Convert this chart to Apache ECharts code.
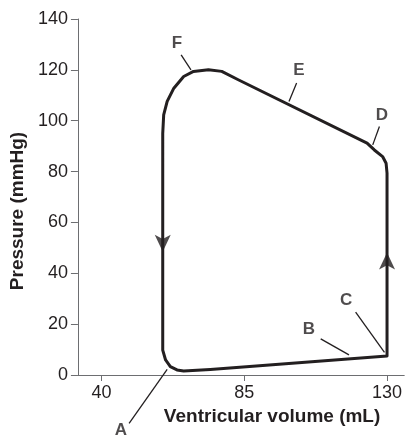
<!DOCTYPE html>
<html>
<head>
<meta charset="utf-8">
<script src="https://cdn.jsdelivr.net/npm/echarts@6/dist/echarts.min.js"></script>
<style>
  html, body { margin: 0; padding: 0; background: #fff; }
  #chart { width: 405px; height: 438px; }
</style>
</head>
<body>
<div id="chart"></div>
<script>
// pressure-volume loop (volume mL, pressure mmHg)
const loop = [
  [63.8, 2.0], [65.9, 1.6], [74.3, 2.2], [130, 7.5],
  [130, 79.4], [129.7, 83.3], [128.6, 85.9], [126.0, 88.5], [123.7, 91.2],
  [83.1, 116.1], [77.9, 119.4], [73.7, 120.0], [69.0, 119.4], [65.9, 117.4],
  [62.8, 112.8], [60.7, 107.6], [59.6, 102.3], [59.3, 95],
  [59.3, 9.8], [60.2, 5.9], [61.7, 3.3], [63.8, 2.0]
]
// arrows on the two vertical sides
const arrowDown = [59.3, 48.5]
const arrowUp = [130, 48.2]

const letters = ['A', 'B', 'C', 'D', 'E', 'F']
const letterPos = [
  [46.1, -21.6], [105.4, 18.0], [117.1, 29.5],
  [128.4, 102.3], [102.2, 119.8], [63.8, 130.5]
]
const leaders = [
  [[48.7, -19.0], [60.7, 2.2]],
  [[109.1, 14.2], [118.0, 7.9]],
  [[120.1, 24.7], [129.2, 8.9]],
  [[127.6, 97.7], [125.5, 90.5]],
  [[101.5, 114.8], [99.1, 107.6]],
  [[65.1, 125.9], [68.2, 120.0]]
]
const xTicks = [40, 85, 130]

const ink = '#231f20'
const axisGrey = '#6d6e71'
const font = '"Liberation Sans", Arial, sans-serif'

const chart = echarts.init(document.getElementById('chart'), null, { renderer: 'canvas' })

const option = {
  backgroundColor: '#fff',
  animation: false,
  textStyle: { fontFamily: font, color: ink },
  grid: { left: 77, top: 19, width: 328, height: 356 },
  xAxis: {
    type: 'value',
    min: 32.57,
    max: 135.42,
    name: 'Ventricular volume (mL)',
    nameLocation: 'middle',
    nameGap: 32,
    nameTextStyle: { color: ink, fontFamily: font, fontWeight: 'bold', fontSize: 19, padding: [0, 0, 0, 62] },
    axisLine: { lineStyle: { color: axisGrey, width: 1 } },
    axisTick: { show: true, length: 6, customValues: xTicks, lineStyle: { color: axisGrey } },
    axisLabel: { customValues: xTicks, color: ink, fontFamily: font, fontSize: 18, margin: 9 },
    splitLine: { show: false }
  },
  yAxis: {
    type: 'value',
    min: 0,
    max: 140,
    interval: 20,
    name: 'Pressure (mmHg)',
    nameLocation: 'middle',
    nameGap: 42,
    nameTextStyle: { color: ink, fontFamily: font, fontWeight: 'bold', fontSize: 19, padding: [0, 28, 0, 0] },
    axisLine: { show: true, lineStyle: { color: axisGrey, width: 1 } },
    axisTick: { show: true, length: 7, lineStyle: { color: axisGrey } },
    axisLabel: { color: ink, fontFamily: font, fontSize: 18, margin: 10 },
    splitLine: { show: false }
  },
  series: [
    {
      type: 'line',
      data: loop,
      showSymbol: false,
      clip: false,
      lineStyle: { color: ink, width: 3, join: 'round', cap: 'round' }
    },
    {
      type: 'scatter',
      clip: false,
      symbol: 'arrow',
      symbolSize: [12, 17],
      itemStyle: { color: ink },
      data: [
        { value: arrowDown, symbolRotate: 180 },
        { value: arrowUp, symbolRotate: 0 }
      ]
    },
    {
      type: 'lines',
      coordinateSystem: 'cartesian2d',
      clip: false,
      lineStyle: { color: ink, width: 1.3, opacity: 1 },
      data: leaders.map(c => ({ coords: c }))
    },
    {
      type: 'scatter',
      clip: false,
      symbolSize: 1,
      itemStyle: { color: 'rgba(0,0,0,0)' },
      label: {
        show: true,
        position: 'inside',
        formatter: p => p.name,
        color: ink,
        fontFamily: font,
        fontWeight: 'bold',
        fontSize: 17
      },
      data: letters.map((n, i) => ({ name: n, value: letterPos[i] }))
    }
  ]
}

chart.setOption(option)
</script>
</body>
</html>
